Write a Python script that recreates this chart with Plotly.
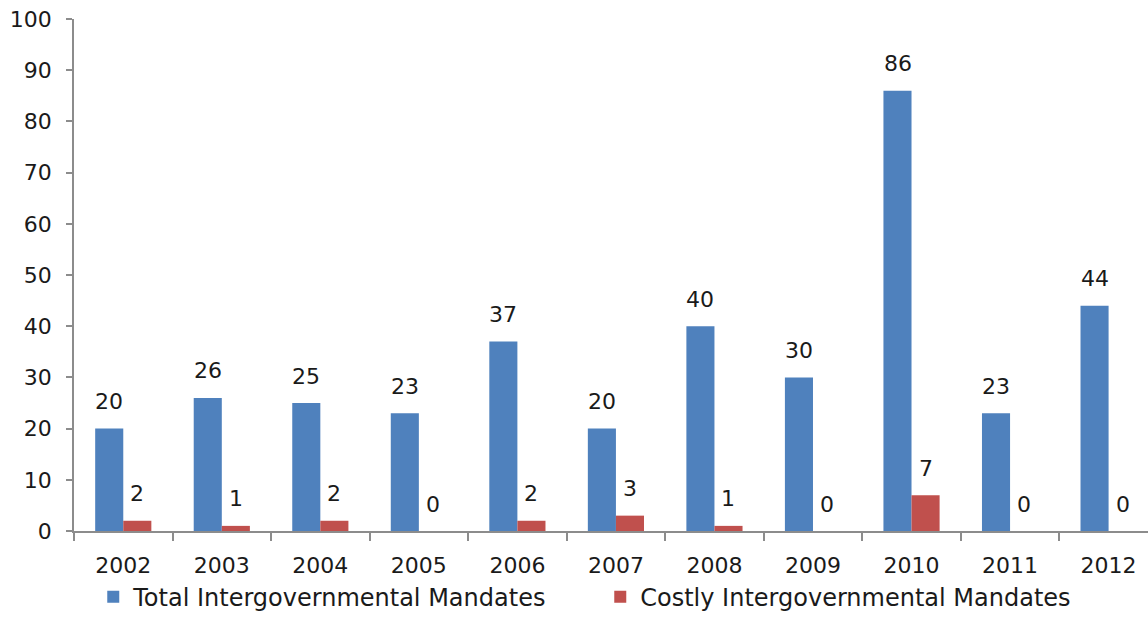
import plotly.graph_objects as go

years = ["2002", "2003", "2004", "2005", "2006", "2007", "2008", "2009", "2010", "2011", "2012"]
total_mandates = [20, 26, 25, 23, 37, 20, 40, 30, 86, 23, 44]
costly_mandates = [2, 1, 2, 0, 2, 3, 1, 0, 7, 0, 0]

FONT = "DejaVu Sans"
TEXT = "#1a1a1a"
AXIS_GRAY = "#8c8c8c"
BLUE = "#4F81BD"
RED = "#C0504D"

fig = go.Figure()
fig.add_trace(go.Bar(
    x=years, y=total_mandates, name="Total Intergovernmental Mandates",
    marker=dict(color=BLUE, line=dict(width=0)),
))
fig.add_trace(go.Bar(
    x=years, y=costly_mandates, name="Costly Intergovernmental Mandates",
    marker=dict(color=RED, line=dict(width=0)),
))

# value labels above each bar of the pair (category index on the x axis)
for series, shift in ((total_mandates, -14), (costly_mandates, 14)):
    for i, v in enumerate(series):
        fig.add_annotation(
            x=i, y=v, xref="x", yref="y", text=str(v), showarrow=False,
            xshift=shift, yshift=27, yanchor="middle",
            font=dict(family=FONT, size=22, color=TEXT),
        )

fig.update_layout(
    width=1148, height=641,
    margin=dict(l=74, r=0, t=19, b=110),
    paper_bgcolor="white", plot_bgcolor="white",
    barmode="group", bargap=0.43, bargroupgap=0,
    font=dict(family=FONT, size=22, color=TEXT),
    showlegend=True,
    legend=dict(
        orientation="h", x=0.49, xanchor="center", xref="paper",
        y=-0.129, yanchor="middle",
        font=dict(family=FONT, size=24, color=TEXT),
        traceorder="normal", itemwidth=30,
        entrywidth=462, entrywidthmode="pixels",
    ),
    xaxis=dict(
        type="category", categoryorder="array", categoryarray=years,
        range=[-0.5, 10.4],
        showgrid=False, showline=True, linecolor=AXIS_GRAY,
        linewidth=1.5, ticks="outside", tickson="boundaries", ticklen=8,
        tickcolor=AXIS_GRAY, tickwidth=1.5, ticklabelstandoff=14,
        tickfont=dict(family=FONT, size=22, color=TEXT),
    ),
    yaxis=dict(
        range=[0, 100], dtick=10, showgrid=False, zeroline=False, showline=True,
        linecolor=AXIS_GRAY, linewidth=1.5, ticks="outside", ticklen=6,
        tickcolor=AXIS_GRAY, tickwidth=1.5, ticklabelstandoff=10,
        tickfont=dict(family=FONT, size=22, color=TEXT),
    ),
)

fig.write_html("out.html")
